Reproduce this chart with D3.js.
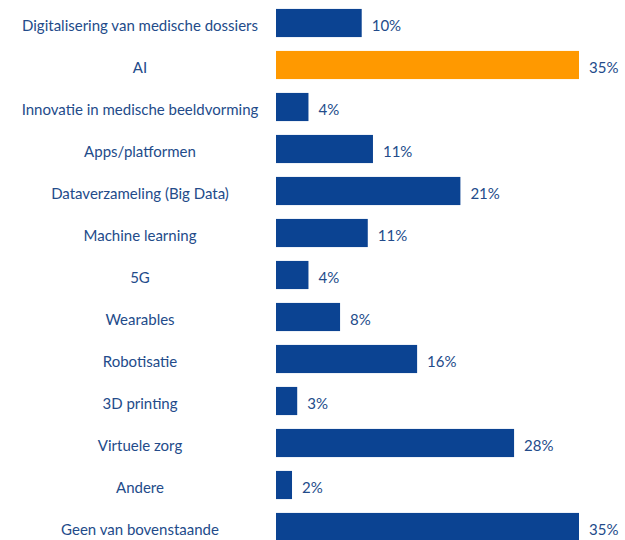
<!DOCTYPE html>
<html>
<head>
<meta charset="utf-8">
<script src="https://cdn.jsdelivr.net/npm/d3@7"></script>
<style>
  body { margin: 0; background: #fff; }
  svg { display: block; }
  text { font-family: Lato, "Liberation Sans", sans-serif; }
</style>
</head>
<body>
<div id="chart"></div>
<script>
const categories = [
    "Digitalisering van medische dossiers",
    "AI",
    "Innovatie in medische beeldvorming",
    "Apps/platformen",
    "Dataverzameling (Big Data)",
    "Machine learning",
    "5G",
    "Wearables",
    "Robotisatie",
    "3D printing",
    "Virtuele zorg",
    "Andere",
    "Geen van bovenstaande"
];
// bar lengths (the labels show rounded values)
const values = [9.9, 35, 3.75, 11.2, 21.3, 10.6, 3.75, 7.4, 16.3, 2.45, 27.5, 1.85, 35];
const valueLabels = ["10%", "35%", "4%", "11%", "21%", "11%", "4%", "8%", "16%", "3%", "28%", "2%", "35%"];
const highlighted = ["AI"];

const width = 625, height = 540;
const data = categories.map((c, i) => ({ category: c, value: values[i], label: valueLabels[i] }));

const svg = d3.select("#chart").append("svg")
    .attr("width", width)
    .attr("height", height);

const y = d3.scaleBand()
    .domain(categories)
    .range([2, 548])
    .paddingInner(0.33)
    .paddingOuter(0.165);

const x = d3.scaleLinear()
    .domain([0, 35])
    .range([276, 579]);

// bars
svg.selectAll(".bar")
    .data(data)
    .join("rect")
    .attr("class", "bar")
    .attr("x", x(0))
    .attr("y", d => y(d.category))
    .attr("width", d => x(d.value) - x(0))
    .attr("height", y.bandwidth())
    .attr("fill", d => highlighted.includes(d.category) ? "#ff9900" : "#0b4392");

// category labels
svg.selectAll(".cat")
    .data(data)
    .join("text")
    .attr("class", "cat")
    .attr("x", 140)
    .attr("y", d => y(d.category) + y.bandwidth() / 2 + 3)
    .attr("dy", "0.35em")
    .attr("text-anchor", "middle")
    .attr("font-size", 15)
    .attr("fill", "#234b8a")
    .text(d => d.category);

// value labels
svg.selectAll(".val")
    .data(data)
    .join("text")
    .attr("class", "val")
    .attr("x", d => x(d.value) + 10)
    .attr("y", d => y(d.category) + y.bandwidth() / 2 + 3)
    .attr("dy", "0.35em")
    .attr("font-size", 15)
    .attr("fill", "#234b8a")
    .text(d => d.label);
</script>
</body>
</html>
